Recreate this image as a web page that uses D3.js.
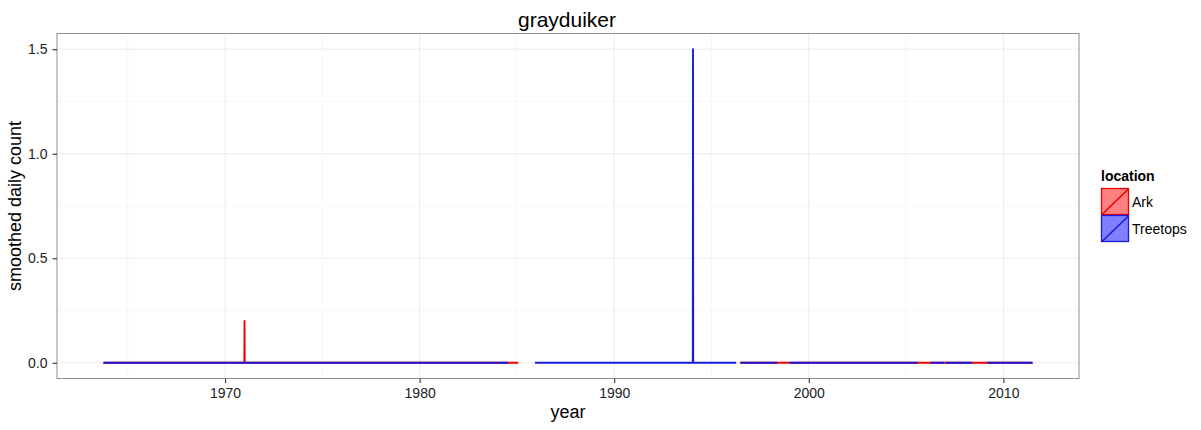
<!DOCTYPE html>
<html>
<head>
<meta charset="utf-8">
<script src="https://cdnjs.cloudflare.com/ajax/libs/d3/7.8.5/d3.min.js"></script>
<style>
	body { margin: 0; background: #fff; }
	svg { font-family: "Liberation Sans", Arial, sans-serif; }
</style>
</head>
<body>
<svg id="chart" width="1201" height="430"></svg>
<script>
// years with NaN where the series has no data
var arkYear = [1963.75, 1970.99, 1971.0, 1971.01, 1985.07, NaN, 1996.48, 2011.5];
var arkCount = [0, 0, 0.2, 0, 0, NaN, 0, 0];

var treetopsYear = [1963.75, 1984.54, NaN, 1985.93, 1994.04, 1994.05, 1994.06, 1996.27, NaN,
	1996.48, 1998.37, NaN, 1999.0, 2005.59, NaN, 2006.26, 2006.95, NaN,
	2007.03, 2008.40, NaN, 2009.17, 2011.5];
var treetopsCount = [0, 0, NaN, 0, 0, 1.5, 0, 0, NaN,
	0, 0, NaN, 0, 0, NaN, 0, 0, NaN,
	0, 0, NaN, 0, 0];

var locations = ['Ark', 'Treetops'];
var locationColors = ['#f00000', '#1a1ad8'];
var keyFills = ['#ff8080', '#8080ff'];

var xTicks = [1970, 1980, 1990, 2000, 2010];
var yTicks = [0, 0.5, 1.0, 1.5];

CHART = {
	init: function() {
		var svg = d3.select('#chart');
		var left = 57, right = 1079, top = 33.5, bottom = 378.5;

		var series = [
			{ name: locations[0], year: arkYear, count: arkCount },
			{ name: locations[1], year: treetopsYear, count: treetopsCount }
		];

		var allYears = arkYear.concat(treetopsYear).filter(function(d) { return !isNaN(d); });
		var ext = d3.extent(allYears);
		var pad = (ext[1] - ext[0]) * 0.05;
		var x = d3.scaleLinear().domain([ext[0] - pad, ext[1] + pad]).range([left, right]);
		var y = d3.scaleLinear().domain([-0.075, 1.575]).range([bottom, top]);

		var color = d3.scaleOrdinal().domain(locations).range(locationColors);

		// minor grid
		var minorX = xTicks.map(function(d) { return d - 5; }).concat([2015]).filter(function(d) {
			return d >= x.domain()[0] && d <= x.domain()[1];
		});
		var minorY = [0.25, 0.75, 1.25];

		svg.append('g').selectAll('line')
			.data(minorX)
			.enter()
			.append('line')
			.attr('x1', function(d) { return x(d); })
			.attr('x2', function(d) { return x(d); })
			.attr('y1', top)
			.attr('y2', bottom)
			.attr('stroke', '#f7f7f7');

		svg.append('g').selectAll('line')
			.data(minorY)
			.enter()
			.append('line')
			.attr('x1', left)
			.attr('x2', right)
			.attr('y1', function(d) { return y(d); })
			.attr('y2', function(d) { return y(d); })
			.attr('stroke', '#f7f7f7');

		// major grid
		svg.append('g').selectAll('line')
			.data(xTicks)
			.enter()
			.append('line')
			.attr('x1', function(d) { return x(d); })
			.attr('x2', function(d) { return x(d); })
			.attr('y1', top)
			.attr('y2', bottom)
			.attr('stroke', '#ebebeb');

		svg.append('g').selectAll('line')
			.data(yTicks)
			.enter()
			.append('line')
			.attr('x1', left)
			.attr('x2', right)
			.attr('y1', function(d) { return y(d); })
			.attr('y2', function(d) { return y(d); })
			.attr('stroke', '#ebebeb');

		// lines
		var line = d3.line()
			.defined(function(d) { return !isNaN(d[0]) && !isNaN(d[1]); })
			.x(function(d) { return x(d[0]); })
			.y(function(d) { return y(d[1]); });

		svg.append('g').selectAll('path')
			.data(series)
			.enter()
			.append('path')
			.attr('d', function(s) {
				return line(s.year.map(function(v, i) { return [v, s.count[i]]; }));
			})
			.attr('fill', 'none')
			.attr('stroke', function(s) { return color(s.name); })
			.attr('stroke-width', 1.9)
			.attr('stroke-linejoin', 'round');

		// panel border
		svg.append('rect')
			.attr('x', left)
			.attr('y', top)
			.attr('width', right - left)
			.attr('height', bottom - top)
			.attr('fill', 'none')
			.attr('stroke', '#8f8f8f');

		// axes
		var xAxis = svg.append('g')
			.attr('transform', 'translate(0,' + bottom + ')')
			.call(d3.axisBottom(x).tickValues(xTicks).tickFormat(d3.format('d')).tickSize(4.5).tickPadding(5));
		var yAxis = svg.append('g')
			.attr('transform', 'translate(' + left + ',0)')
			.call(d3.axisLeft(y).tickValues(yTicks).tickFormat(d3.format('.1f')).tickSize(4.5).tickPadding(5));

		[xAxis, yAxis].forEach(function(a) {
			a.select('.domain').remove();
			a.selectAll('line').attr('stroke', '#333').attr('stroke-width', 1.1);
			a.selectAll('text')
				.attr('fill', '#222')
				.style('font-size', '14px')
				.style('font-family', '"Liberation Sans", Arial, sans-serif');
		});

		// titles
		svg.append('text')
			.attr('x', 567)
			.attr('y', 27)
			.attr('text-anchor', 'middle')
			.style('font-size', '21px')
			.text('grayduiker');

		svg.append('text')
			.attr('x', (left + right) / 2)
			.attr('y', 418)
			.attr('text-anchor', 'middle')
			.style('font-size', '18px')
			.text('year');

		svg.append('text')
			.attr('transform', 'translate(20.5,' + ((top + bottom) / 2) + ') rotate(-90)')
			.attr('text-anchor', 'middle')
			.style('font-size', '18px')
			.text('smoothed daily count');

		// legend
		var legend = svg.append('g').attr('transform', 'translate(1101,0)');
		legend.append('text')
			.attr('x', 0)
			.attr('y', 181)
			.style('font-size', '14px')
			.style('font-weight', 'bold')
			.text('location');

		var keys = legend.selectAll('g.key')
			.data(locations)
			.enter()
			.append('g')
			.attr('class', 'key')
			.attr('transform', function(d, i) { return 'translate(0,' + (188 + i * 27) + ')'; });

		keys.append('rect')
			.attr('x', 0.5)
			.attr('y', 0.5)
			.attr('width', 27)
			.attr('height', 26)
			.attr('fill', function(d, i) { return keyFills[i]; })
			.attr('stroke', function(d) { return color(d); })
			.attr('stroke-width', 1.3);

		keys.append('line')
			.attr('x1', 1)
			.attr('y1', 26.5)
			.attr('x2', 27.5)
			.attr('y2', 1)
			.attr('stroke', function(d) { return color(d); })
			.attr('stroke-width', 1.6);

		keys.append('text')
			.attr('x', 31)
			.attr('y', 18.5)
			.style('font-size', '14px')
			.text(function(d) { return d; });
	}
};

CHART.init();
</script>
</body>
</html>
